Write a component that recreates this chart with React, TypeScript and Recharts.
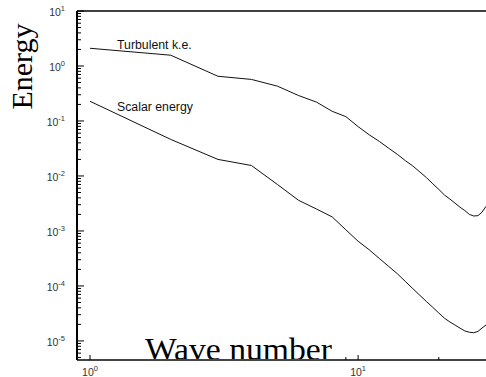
import React from 'react';
import { LineChart, Line, XAxis, YAxis, ReferenceLine, Customized } from 'recharts';

// wave numbers k = 1..30
const wavenumbers = [
  1, 2, 3, 4, 5, 6, 7, 8, 9, 10,
  11, 12, 13, 14, 15, 16, 17, 18, 19, 20,
  21, 22, 23, 24, 25, 26, 27, 28, 29, 30,
];

const turbulentKE = [
  2.1, 1.57, 0.65, 0.57, 0.43, 0.29, 0.22, 0.15, 0.12, 0.079,
  0.056, 0.0425, 0.032, 0.0248, 0.019, 0.0152, 0.0118, 0.0093, 0.0072, 0.0057,
  0.0045, 0.0038, 0.0032, 0.0027, 0.00235, 0.002, 0.00187, 0.0019, 0.0022, 0.0028,
];

const scalarEnergy = [
  0.228, 0.0462, 0.02, 0.0155, 0.007, 0.0036, 0.0025, 0.0018, 0.00105, 0.00065,
  0.000455, 0.000316, 0.000227, 0.000167, 0.000121, 0.0000893, 0.0000675, 0.0000519, 0.0000408, 0.0000322,
  0.0000259, 0.0000221, 0.0000194, 0.0000171, 0.0000152, 0.0000144, 0.0000141, 0.0000149, 0.0000172, 0.0000195,
];

const xTicks = [1, 9, 10, 20];
const yDecades = [1e-6, 1e-5, 1e-4, 1e-3, 1e-2, 1e-1, 1];
const mantissas = [1, 2, 3, 4, 5, 6, 7, 8, 9];

const X_DOMAIN = [0.894, 30];
const Y_DOMAIN = [4.5e-6, 10];

const yTicks = yDecades
  .flatMap(d => mantissas.map(m => m * d))
  .filter(v => v >= Y_DOMAIN[0] && v < Y_DOMAIN[1])
  .concat([10]);

const data = wavenumbers.map((k, i) => ({
  k,
  tke: turbulentKE[i],
  scalar: scalarEnergy[i],
}));

const SANS = '"Liberation Sans", Arial, Helvetica, sans-serif';
const SERIF = '"Liberation Serif", "Times New Roman", serif';

const exponentOf = (v: number) => Math.round(Math.log10(v));
const isDecade = (v: number) => Math.abs(Math.log10(v) - exponentOf(v)) < 1e-6;

// ticks point inward, like the original plot
function YTick(props: any) {
  const { x, y, payload } = props;
  const v = payload.value;
  const major = isDecade(v);
  return (
    <g>
      <line x1={x} x2={x + (major ? 7 : 4)} y1={y} y2={y} stroke="#000" strokeWidth={1} />
      {major && (
        <text x={x - 12} y={y + 5} textAnchor="end" fontFamily={SANS} fontSize={10.5} fill="#333">
          10<tspan dy={-5} fontSize={7.5}>{exponentOf(v)}</tspan>
        </text>
      )}
    </g>
  );
}

function XTick(props: any) {
  const { x, y, payload } = props;
  const v = payload.value;
  const major = isDecade(v);
  return (
    <g>
      <line x1={x} x2={x} y1={y} y2={y - (major ? 5 : 3)} stroke="#000" strokeWidth={1} />
      {major && (
        <text x={x} y={y + 16} textAnchor="middle" fontFamily={SANS} fontSize={10.5} fill="#333">
          10<tspan dy={-5} fontSize={7.5}>{exponentOf(v)}</tspan>
        </text>
      )}
    </g>
  );
}

function Annotations() {
  return (
    <g>
      <text x={117} y={48.5} fontFamily={SANS} fontSize={12.3} fill="#111">Turbulent k.e.</text>
      <text x={117} y={110.5} fontFamily={SANS} fontSize={12.3} fill="#111">Scalar energy</text>
      <text
        x={32}
        y={66.5}
        transform="rotate(-90, 32, 66.5)"
        textAnchor="middle"
        fontFamily={SERIF}
        fontSize={30}
        fill="#000"
      >
        Energy
      </text>
      <text x={145} y={360} fontFamily={SERIF} fontSize={32} textLength={187} lengthAdjust="spacingAndGlyphs" fill="#000">
        Wave number
      </text>
    </g>
  );
}

export default function App() {
  return (
    <div style={{ position: 'absolute', left: 0, top: 0, width: 486, height: 377, background: '#fff' }}>
      <LineChart width={486} height={377} data={data} margin={{ top: 11, right: 0, bottom: 0, left: 0 }}>
        <XAxis
          dataKey="k"
          type="number"
          scale="log"
          domain={X_DOMAIN}
          allowDataOverflow
          ticks={xTicks}
          interval={0}
          height={17}
          tickSize={0}
          tickMargin={0}
          tickLine={false}
          tick={<XTick />}
          axisLine={{ stroke: '#444', strokeWidth: 2 }}
        />
        <YAxis
          type="number"
          scale="log"
          domain={Y_DOMAIN}
          allowDataOverflow
          ticks={yTicks}
          interval={0}
          width={77}
          tickSize={0}
          tickMargin={0}
          tickLine={false}
          tick={<YTick />}
          axisLine={{ stroke: '#000', strokeWidth: 2 }}
        />
        <ReferenceLine y={10} stroke="#000" strokeWidth={1.5} />
        <Line type="linear" dataKey="tke" stroke="#111" strokeWidth={1} dot={false} isAnimationActive={false} />
        <Line type="linear" dataKey="scalar" stroke="#111" strokeWidth={1} dot={false} isAnimationActive={false} />
        <Customized component={Annotations} />
      </LineChart>
    </div>
  );
}
